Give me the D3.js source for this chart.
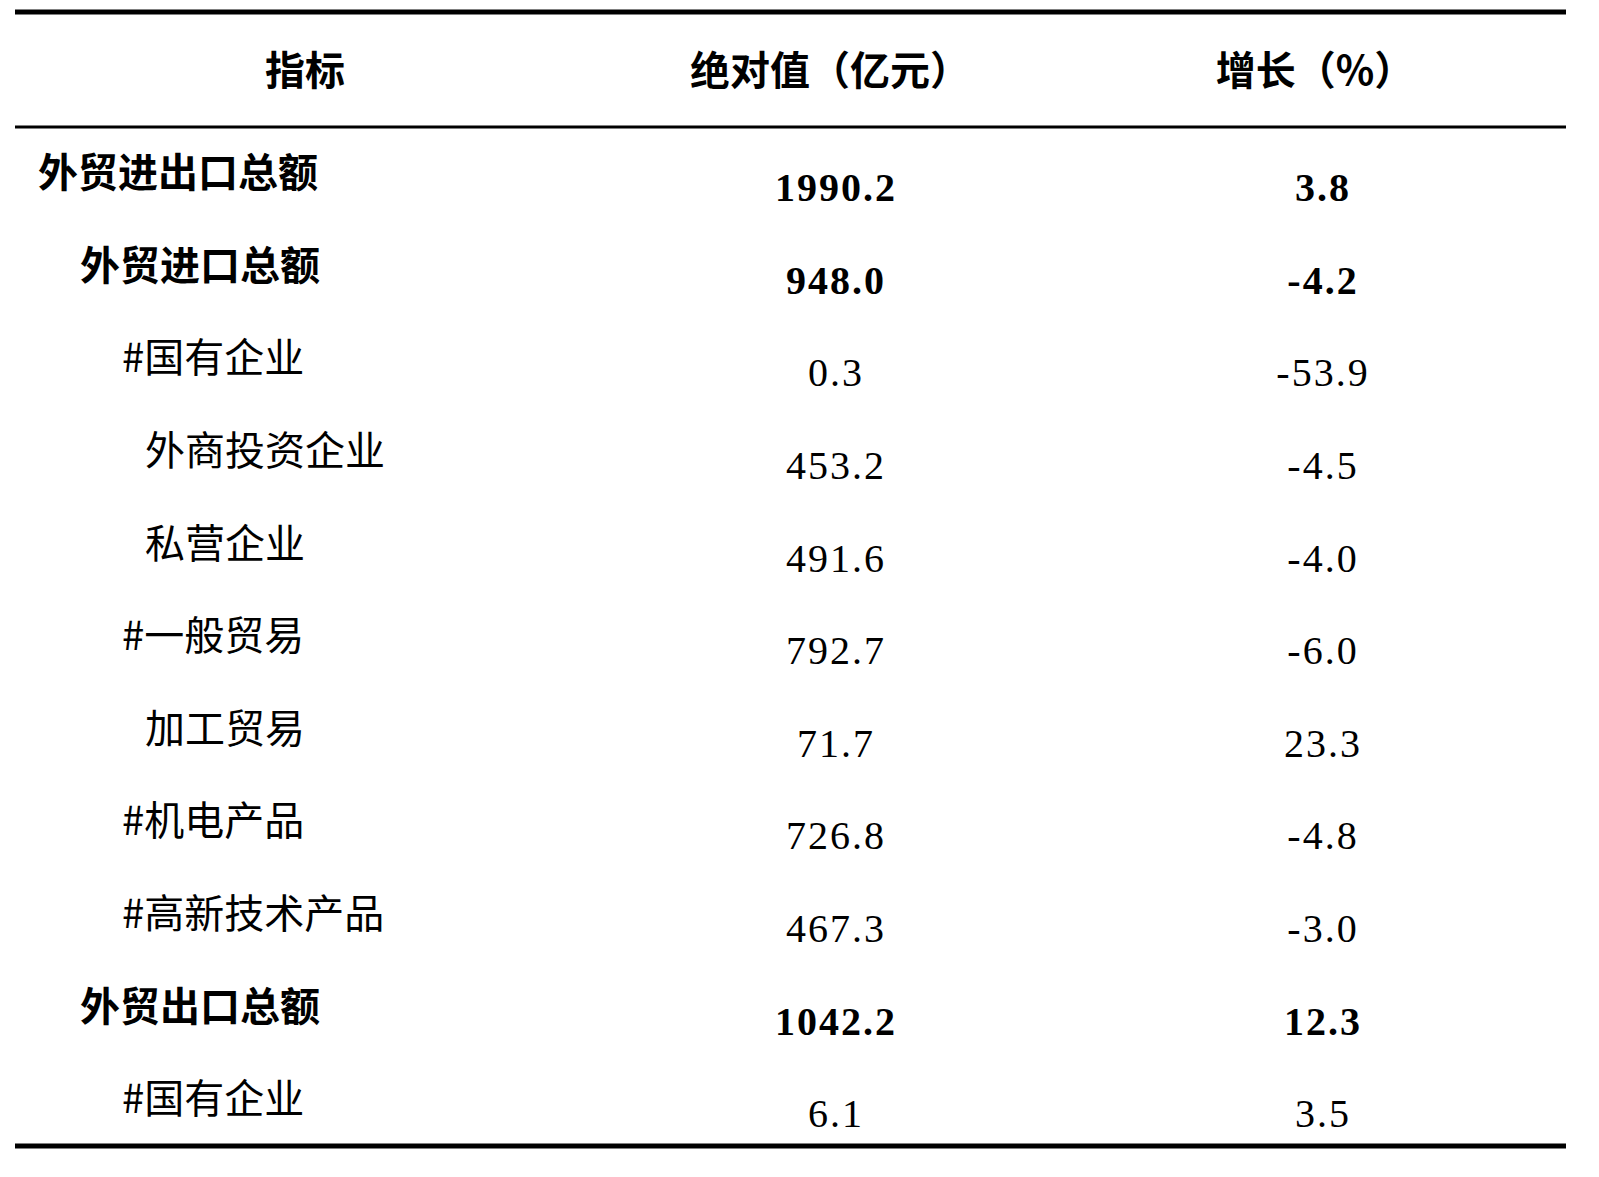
<!DOCTYPE html>
<html><head><meta charset="utf-8">
<script src="https://cdn.jsdelivr.net/npm/d3@7"></script>
<style>html,body{margin:0;padding:0;background:#fff;overflow:hidden}svg{display:block}</style></head>
<body><script>
const headers = ["指标", "绝对值（亿元）", "增长（%）"];
const labels = ["外贸进出口总额","外贸进口总额","#国有企业","外商投资企业","私营企业","#一般贸易","加工贸易","#机电产品","#高新技术产品","外贸出口总额","#国有企业"];
const indents = [0,1,2,3,3,2,3,2,2,1,2];
const values = ["1990.2","948.0","0.3","453.2","491.6","792.7","71.7","726.8","467.3","1042.2","6.1"];
const growth = ["3.8","-4.2","-53.9","-4.5","-4.0","-6.0","23.3","-4.8","-3.0","12.3","3.5"];
const bold = [1,1,0,0,0,0,0,0,0,1,0];

const W=1599,H=1177;
const svg=d3.select("body").append("svg").attr("width",W).attr("height",H);
const y=d3.scaleBand().domain(d3.range(labels.length)).range([127,1146]);
const indentX=d3.scaleOrdinal().domain([0,1,2,3]).range([38,80,122,145]);
const cjk="'Noto Sans CJK SC', sans-serif";
const num="'Liberation Serif', serif";
svg.append("line").attr("x1",15).attr("x2",1566).attr("y1",12).attr("y2",12).attr("stroke","#000").attr("stroke-width",5);
svg.append("line").attr("x1",15).attr("x2",1566).attr("y1",127).attr("y2",127).attr("stroke","#000").attr("stroke-width",3);
svg.append("line").attr("x1",15).attr("x2",1566).attr("y1",1146).attr("y2",1146).attr("stroke","#000").attr("stroke-width",5);
const hx=[305,830,1315];
svg.selectAll("text.h").data(headers).join("text").attr("x",(d,i)=>hx[i]).attr("y",85)
 .attr("text-anchor","middle").attr("font-family",cjk).attr("font-weight","bold").attr("font-size",40).text(d=>d);
const g=svg.selectAll("g.r").data(labels).join("g").attr("transform",(d,i)=>`translate(0,${y(i)})`);
g.append("text").attr("x",(d,i)=>indentX(indents[i])).attr("y",60).attr("font-family",cjk)
 .attr("font-weight",(d,i)=>bold[i]?"bold":"normal").attr("font-size",40).text(d=>d);
g.append("text").attr("x",836).attr("y",74).attr("text-anchor","middle").attr("font-family",num)
 .attr("font-weight",(d,i)=>bold[i]?"bold":"normal").attr("font-size",40).attr("letter-spacing",2).text((d,i)=>values[i]);
g.append("text").attr("x",1323).attr("y",74).attr("text-anchor","middle").attr("font-family",num)
 .attr("font-weight",(d,i)=>bold[i]?"bold":"normal").attr("font-size",40).attr("letter-spacing",2).text((d,i)=>growth[i]);
</script></body></html>
